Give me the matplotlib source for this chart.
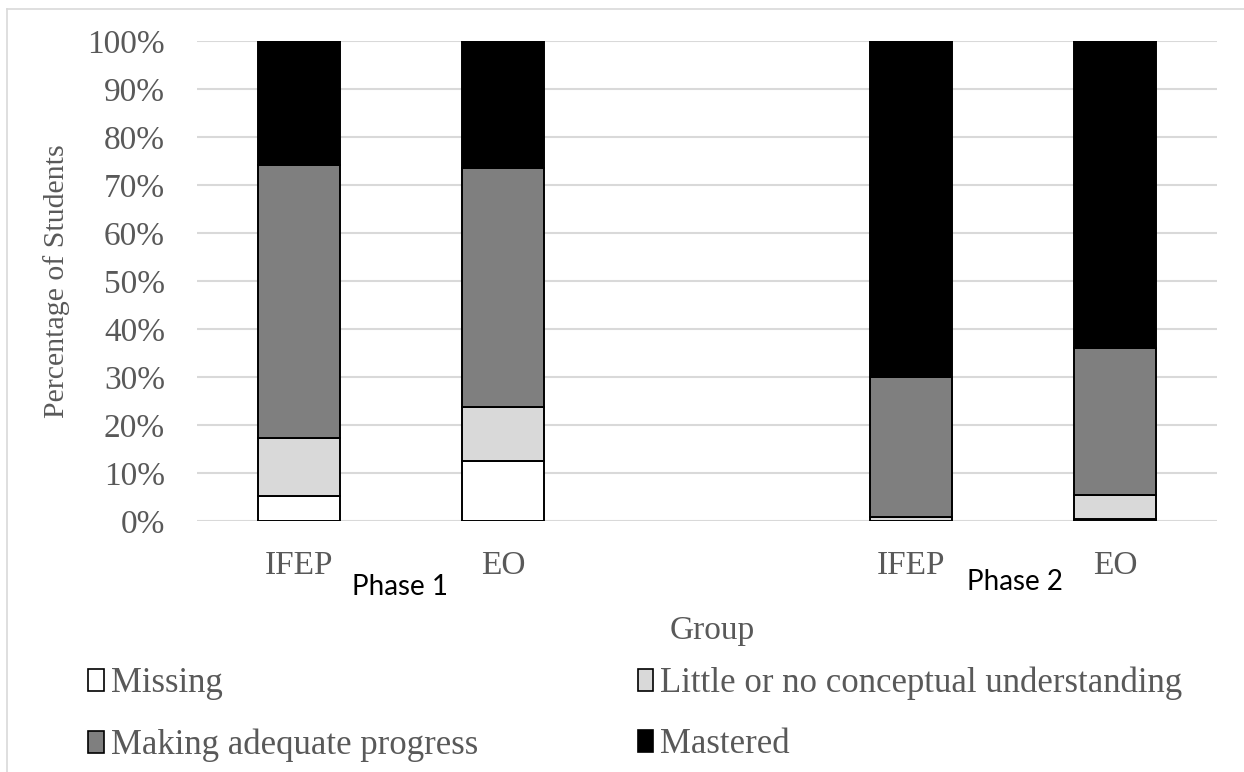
import matplotlib
matplotlib.use("Agg")
import matplotlib.pyplot as plt
from matplotlib.patches import Patch
from matplotlib.lines import Line2D
from matplotlib.ticker import PercentFormatter

# ---- data ----
groups = ["IFEP", "EO", "IFEP", "EO"]
phases = ["Phase 1", "Phase 2"]
categories = ["Missing", "Little or no conceptual understanding",
              "Making adequate progress", "Mastered"]
missing = [5.2, 12.6, 0.0, 0.4]
little = [12.0, 11.2, 0.8, 4.95]
making = [57.0, 49.7, 29.1, 30.65]
mastered = [25.8, 26.5, 70.1, 64.05]
positions = [0, 1, 3, 4]
colors = ["#ffffff", "#d9d9d9", "#7f7f7f", "#000000"]

serif = ["Liberation Serif", "DejaVu Serif"]
gray = "#595959"

fig = plt.figure(figsize=(12.44, 7.72), dpi=100)
ax = fig.add_axes([197/1244, 1-521/772, (1217-197)/1244, (521-41)/772])

series = [missing, little, making, mastered]
bottom = [0.0]*4
for vals, col, lab in zip(series, colors, categories):
    ax.bar(positions, vals, width=0.4, bottom=bottom, color=col,
           edgecolor="black", linewidth=1.4, label=lab, zorder=3)
    bottom = [b+v for b, v in zip(bottom, vals)]

ax.set_xlim(-0.5, 4.5)
ax.set_ylim(0, 100)
ax.set_yticks(range(0, 101, 10))
ax.yaxis.set_major_formatter(PercentFormatter(decimals=0))
ax.set_xticks(positions)
ax.set_xticklabels(groups)
ax.grid(axis="y", color="#d9d9d9", linewidth=1.5, zorder=0)
ax.set_axisbelow(True)
for s in ax.spines.values():
    s.set_visible(False)
ax.tick_params(length=0, labelsize=24, labelcolor=gray)
ax.tick_params(axis="y", pad=23)
ax.tick_params(axis="x", pad=21)
for t in ax.get_xticklabels() + ax.get_yticklabels():
    t.set_fontfamily(serif)

ax.set_ylabel("Percentage of Students", fontsize=21.5, color=gray,
              family=serif, va="center")
ax.yaxis.set_label_coords((57-197)/1020, 0.5)
fig.text(712/1244, 1-631/772, "Group", fontsize=24, color=gray,
         family=serif, ha="center", va="center")

fig.text(400/1244, 1-587/772, phases[0], fontsize=20, color="black",
         family=["Lato", "DejaVu Sans"], ha="center", va="center")
fig.text(1015/1244, 1-582/772, phases[1], fontsize=20, color="black",
         family=["Lato", "DejaVu Sans"], ha="center", va="center")

# border lines
fig.add_artist(Line2D([7/1244, 7/1244], [0, 1-9/772], transform=fig.transFigure,
                      color="#d9d9d9", linewidth=1.2))
fig.add_artist(Line2D([7/1244, 1], [1-9/772, 1-9/772], transform=fig.transFigure,
                      color="#d9d9d9", linewidth=1.2))

handles = [Patch(facecolor=c, edgecolor="black", linewidth=1.2, label=l)
           for c, l in zip(colors, categories)]
order = [0, 2, 1, 3]
leg = fig.legend([handles[i] for i in order], [categories[i] for i in order],
                 ncol=2, loc="upper left",
                 bbox_to_anchor=(88/1244, 1-667/772), frameon=False,
                 prop={"family": serif, "size": 25},
                 handlelength=0.45, handleheight=0.6, handletextpad=0.2,
                 columnspacing=4.6, labelspacing=0.8, borderpad=0,
                 borderaxespad=0)
for t in leg.get_texts():
    t.set_color(gray)

fig.savefig("out.png", dpi=100)
